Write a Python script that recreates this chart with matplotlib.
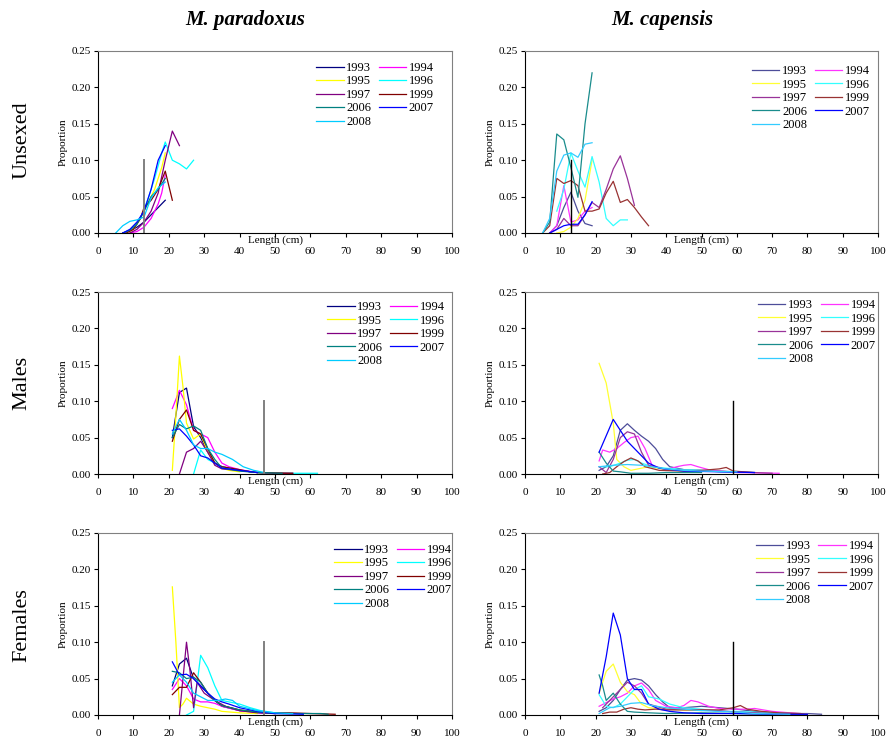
import matplotlib
matplotlib.use("Agg")
import matplotlib.pyplot as plt

plt.rcParams['font.family'] = ['Liberation Serif', 'DejaVu Serif']

years = [1993, 1994, 1995, 1996, 1997, 1999, 2006, 2007, 2008]
# legend is read row by row in the reference: 1993 1994 / 1995 1996 ...
legend_order = [1993, 1995, 1997, 2006, 2008, 1994, 1996, 1999, 2007]
col_titles = ['M. paradoxus', 'M. capensis']
row_titles = ['Unsexed', 'Males', 'Females']
x_ticks = [0, 10, 20, 30, 40, 50, 60, 70, 80, 90, 100]
y_ticks = [0.00, 0.05, 0.10, 0.15, 0.20, 0.25]

# colours (Excel-like palette), paradoxus / capensis
col_par = {1993: '#000080', 1994: '#FF00FF', 1995: '#FFFF00', 1996: '#00FFFF',
           1997: '#800080', 1999: '#800000', 2006: '#008080', 2007: '#0000FF',
           2008: '#00CCFF'}
col_cap = {1993: '#4D4D99', 1994: '#FF33FF', 1995: '#FFFF33', 1996: '#33FFFF',
           1997: '#993399', 1999: '#993333', 2006: '#1A8C8C', 2007: '#0000FF',
           2008: '#33CCFF'}

# vertical marker lines (length)
vline_par = 13
vline_cap = 13
vline_par_sex = 47
vline_cap_sex = 59

# ---- M. paradoxus, unsexed
par_unsexed = {
    1993: ([7, 9, 11, 13, 15, 17, 19], [0.0, 0.003, 0.008, 0.015, 0.025, 0.035, 0.045]),
    1994: ([9, 11, 13, 15, 16, 17, 18, 19], [0.0, 0.002, 0.008, 0.02, 0.03, 0.04, 0.055, 0.08]),
    1995: ([8, 10, 12, 14, 16, 18, 19], [0.0, 0.005, 0.02, 0.04, 0.06, 0.09, 0.11]),
    1996: ([8, 10, 12, 14, 16, 18, 19, 21, 23, 25, 27], [0.0, 0.008, 0.02, 0.045, 0.075, 0.11, 0.125, 0.1, 0.095, 0.088, 0.1]),
    1997: ([9, 11, 13, 15, 17, 19, 21, 23], [0.0, 0.005, 0.015, 0.03, 0.055, 0.1, 0.14, 0.12]),
    1999: ([8, 10, 12, 13, 15, 17, 19, 21], [0.0, 0.005, 0.02, 0.035, 0.045, 0.06, 0.085, 0.045]),
    2006: ([7, 9, 11, 13, 15, 17, 19], [0.0, 0.004, 0.012, 0.03, 0.05, 0.06, 0.075]),
    2007: ([7, 9, 11, 13, 15, 17, 19], [0.0, 0.005, 0.015, 0.03, 0.06, 0.1, 0.12]),
    2008: ([5, 7, 9, 11, 13, 15, 17, 19], [0.0, 0.01, 0.016, 0.018, 0.022, 0.048, 0.062, 0.07]),
}

# ---- M. capensis, unsexed
cap_unsexed = {
    1993: ([7, 9, 11, 13, 15, 17, 19], [0.0, 0.01, 0.035, 0.056, 0.03, 0.013, 0.01]),
    1994: ([7, 9, 11, 13, 15, 17, 19], [0.0, 0.01, 0.065, 0.015, 0.018, 0.03, 0.035]),
    1995: ([9, 11, 13, 15, 17, 19], [0.0, 0.002, 0.008, 0.02, 0.045, 0.1]),
    1996: ([9, 11, 13, 15, 17, 19, 21, 23, 25, 27, 29], [0.03, 0.06, 0.11, 0.085, 0.063, 0.105, 0.07, 0.02, 0.01, 0.018, 0.018]),
    1997: ([7, 9, 11, 13, 15, 17, 19, 21, 23, 25, 27, 29, 31], [0.0, 0.005, 0.02, 0.01, 0.01, 0.025, 0.042, 0.035, 0.06, 0.088, 0.106, 0.075, 0.038]),
    1999: ([5, 7, 9, 11, 13, 15, 17, 19, 21, 23, 25, 27, 29, 31, 33, 35], [0.0, 0.01, 0.075, 0.068, 0.072, 0.065, 0.03, 0.03, 0.033, 0.055, 0.071, 0.042, 0.046, 0.035, 0.022, 0.01]),
    2006: ([5, 7, 9, 11, 13, 15, 17, 19], [0.0, 0.015, 0.136, 0.128, 0.09, 0.049, 0.15, 0.22]),
    2007: ([7, 9, 11, 13, 15, 17, 19], [0.0, 0.005, 0.01, 0.012, 0.012, 0.025, 0.043]),
    2008: ([5, 7, 9, 11, 13, 15, 17, 19], [0.0, 0.02, 0.085, 0.107, 0.11, 0.104, 0.122, 0.124]),
}

# ---- M. paradoxus, males
par_males = {
    1993: ([21, 23, 25, 27, 29, 31, 33, 35, 37, 40, 45], [0.05, 0.112, 0.118, 0.065, 0.05, 0.03, 0.015, 0.01, 0.008, 0.005, 0.002]),
    1994: ([21, 23, 25, 27, 29, 31, 33, 35, 37, 40, 45], [0.09, 0.115, 0.095, 0.06, 0.055, 0.05, 0.03, 0.015, 0.01, 0.006, 0.002]),
    1995: ([21, 22, 23, 24, 25, 27, 29, 31, 33, 35, 37, 40], [0.005, 0.08, 0.162, 0.12, 0.07, 0.048, 0.055, 0.03, 0.015, 0.008, 0.005, 0.003]),
    1996: ([27, 29, 31, 33, 35, 40, 45, 50, 55, 60, 62], [0.0, 0.033, 0.02, 0.015, 0.01, 0.005, 0.002, 0.001, 0.001, 0.001, 0.001]),
    1997: ([23, 25, 27, 29, 31, 33, 35, 40, 45, 50, 55], [0.0, 0.03, 0.035, 0.045, 0.03, 0.012, 0.007, 0.005, 0.002, 0.001, 0.001]),
    1999: ([21, 23, 25, 27, 29, 31, 33, 35, 40, 43, 45, 55], [0.045, 0.075, 0.088, 0.06, 0.055, 0.035, 0.015, 0.01, 0.006, 0.003, 0.002, 0.001]),
    2006: ([21, 23, 25, 27, 29, 31, 33, 35, 40, 45, 52], [0.05, 0.068, 0.062, 0.066, 0.06, 0.035, 0.02, 0.008, 0.004, 0.002, 0.001]),
    2007: ([21, 23, 25, 27, 29, 31, 33, 35, 40, 45], [0.06, 0.062, 0.052, 0.04, 0.025, 0.022, 0.015, 0.008, 0.005, 0.002]),
    2008: ([21, 23, 25, 27, 29, 31, 33, 35, 38, 41, 44, 47], [0.055, 0.075, 0.06, 0.04, 0.035, 0.035, 0.03, 0.027, 0.02, 0.01, 0.005, 0.002]),
}

# ---- M. capensis, males
cap_males = {
    1993: ([21, 23, 25, 27, 29, 31, 33, 35, 37, 39, 41, 45, 55, 60], [0.005, 0.01, 0.025, 0.06, 0.069, 0.06, 0.052, 0.045, 0.035, 0.02, 0.01, 0.006, 0.004, 0.003]),
    1994: ([21, 22, 24, 26, 28, 30, 32, 34, 36, 40, 43, 45, 47, 49, 52, 55, 60, 72], [0.018, 0.033, 0.03, 0.035, 0.043, 0.05, 0.052, 0.035, 0.012, 0.006, 0.01, 0.012, 0.013, 0.01, 0.006, 0.004, 0.002, 0.001]),
    1995: ([21, 23, 25, 26, 28, 30, 33, 35, 40, 45, 50], [0.152, 0.125, 0.07, 0.02, 0.01, 0.005, 0.008, 0.01, 0.006, 0.004, 0.003]),
    1996: ([21, 24, 27, 29, 31, 33, 36, 40, 45, 50, 55, 60, 65], [0.01, 0.01, 0.015, 0.019, 0.02, 0.015, 0.01, 0.008, 0.006, 0.005, 0.003, 0.003, 0.002]),
    1997: ([21, 23, 25, 27, 29, 31, 33, 35, 40, 50, 60, 70], [0.01, 0.002, 0.02, 0.05, 0.058, 0.055, 0.03, 0.012, 0.006, 0.004, 0.003, 0.001]),
    1999: ([22, 24, 26, 28, 30, 32, 34, 38, 45, 50, 55, 57, 59, 65], [0.0, 0.002, 0.01, 0.017, 0.022, 0.018, 0.01, 0.005, 0.004, 0.005, 0.007, 0.009, 0.004, 0.002]),
    2006: ([21, 23, 25, 27, 30, 35, 40, 50], [0.03, 0.015, 0.004, 0.003, 0.001, 0.001, 0.002, 0.002]),
    2007: ([21, 25, 27, 29, 31, 33, 35, 38, 45, 55, 65], [0.03, 0.075, 0.06, 0.045, 0.035, 0.025, 0.015, 0.008, 0.004, 0.003, 0.002]),
    2008: ([21, 25, 29, 33, 36, 40, 45, 50, 60], [0.01, 0.012, 0.013, 0.012, 0.01, 0.007, 0.005, 0.004, 0.003]),
}

# ---- M. paradoxus, females
par_females = {
    1993: ([21, 23, 25, 27, 29, 31, 33, 35, 40, 45, 50], [0.04, 0.07, 0.078, 0.05, 0.04, 0.03, 0.02, 0.012, 0.006, 0.004, 0.002]),
    1994: ([21, 23, 25, 27, 29, 31, 33, 35, 40, 45, 50], [0.035, 0.05, 0.04, 0.022, 0.018, 0.018, 0.016, 0.012, 0.006, 0.003, 0.002]),
    1995: ([21, 22, 23, 24, 25, 27, 29, 31, 33, 35, 40, 45], [0.176, 0.1, 0.01, 0.015, 0.023, 0.015, 0.012, 0.01, 0.008, 0.005, 0.003, 0.002]),
    1996: ([25, 27, 29, 31, 33, 35, 37, 40, 43, 46, 50, 55], [0.0, 0.005, 0.082, 0.065, 0.04, 0.02, 0.018, 0.015, 0.01, 0.006, 0.003, 0.002]),
    1997: ([23, 24, 25, 26, 27, 28, 30, 33, 36, 40, 45, 50], [0.0, 0.05, 0.1, 0.06, 0.01, 0.045, 0.03, 0.02, 0.012, 0.006, 0.003, 0.002]),
    1999: ([21, 23, 25, 27, 29, 31, 33, 35, 40, 45, 50, 54, 60, 67], [0.028, 0.038, 0.038, 0.058, 0.045, 0.03, 0.02, 0.013, 0.007, 0.004, 0.003, 0.003, 0.002, 0.001]),
    2006: ([21, 23, 25, 27, 29, 31, 33, 35, 40, 45, 50, 63, 65], [0.06, 0.058, 0.05, 0.052, 0.045, 0.03, 0.02, 0.013, 0.007, 0.004, 0.002, 0.002, 0.001]),
    2007: ([21, 23, 25, 27, 29, 31, 33, 35, 37, 40, 45, 50, 58], [0.073, 0.055, 0.056, 0.05, 0.04, 0.03, 0.022, 0.018, 0.015, 0.01, 0.005, 0.002, 0.001]),
    2008: ([21, 23, 25, 27, 29, 31, 34, 36, 38, 40, 45, 50, 55], [0.045, 0.055, 0.045, 0.03, 0.025, 0.02, 0.02, 0.022, 0.02, 0.012, 0.006, 0.003, 0.002]),
}

# ---- M. capensis, females
cap_females = {
    1993: ([21, 23, 25, 27, 29, 31, 33, 35, 37, 39, 41, 45, 50, 55, 60, 65, 70, 75, 80, 84], [0.005, 0.01, 0.02, 0.035, 0.048, 0.05, 0.048, 0.04, 0.028, 0.018, 0.01, 0.01, 0.012, 0.01, 0.008, 0.005, 0.003, 0.002, 0.002, 0.001]),
    1994: ([21, 23, 25, 27, 29, 31, 33, 35, 37, 40, 43, 45, 47, 49, 52, 55, 60, 63, 65, 70, 75, 80], [0.012, 0.017, 0.022, 0.025, 0.03, 0.04, 0.044, 0.035, 0.02, 0.012, 0.01, 0.013, 0.02, 0.018, 0.012, 0.009, 0.008, 0.008, 0.009, 0.005, 0.003, 0.001]),
    1995: ([21, 23, 25, 27, 29, 31, 33, 35, 40, 45, 50], [0.03, 0.06, 0.07, 0.045, 0.032, 0.028, 0.015, 0.01, 0.008, 0.007, 0.006]),
    1996: ([21, 23, 25, 27, 29, 31, 33, 35, 38, 41, 45, 50, 55, 60, 70, 80], [0.028, 0.012, 0.01, 0.015, 0.025, 0.035, 0.04, 0.025, 0.022, 0.015, 0.01, 0.008, 0.005, 0.005, 0.003, 0.001]),
    1997: ([22, 25, 27, 29, 31, 33, 35, 40, 45, 50, 55, 60, 70, 78], [0.01, 0.025, 0.035, 0.045, 0.04, 0.03, 0.015, 0.008, 0.008, 0.007, 0.006, 0.004, 0.002, 0.002]),
    1999: ([22, 24, 26, 28, 30, 32, 34, 37, 40, 45, 50, 55, 59, 61, 63, 67, 72, 78, 80], [0.002, 0.004, 0.004, 0.008, 0.01, 0.008, 0.007, 0.008, 0.007, 0.007, 0.007, 0.007, 0.01, 0.013, 0.008, 0.005, 0.003, 0.002, 0.001]),
    2006: ([21, 22, 23, 25, 27, 29, 31, 35, 40, 50, 60, 70], [0.055, 0.04, 0.02, 0.03, 0.015, 0.005, 0.004, 0.003, 0.002, 0.003, 0.002, 0.001]),
    2007: ([21, 23, 25, 27, 29, 31, 33, 35, 38, 41, 45, 50, 60, 70, 80], [0.03, 0.08, 0.14, 0.11, 0.05, 0.035, 0.035, 0.015, 0.008, 0.005, 0.003, 0.002, 0.002, 0.001, 0.001]),
    2008: ([21, 24, 27, 30, 33, 36, 40, 45, 50, 55, 60, 65, 75], [0.002, 0.01, 0.012, 0.016, 0.017, 0.013, 0.01, 0.008, 0.006, 0.005, 0.004, 0.002, 0.001]),
}

panels = [[par_unsexed, cap_unsexed], [par_males, cap_males], [par_females, cap_females]]
vlines = [[vline_par, vline_cap], [vline_par_sex, vline_cap_sex], [vline_par_sex, vline_cap_sex]]
# legend anchor (axes fraction) per panel
leg_pos = [[(0.616, 0.94), (0.643, 0.923)],
           [(0.647, 0.95), (0.66, 0.96)],
           [(0.667, 0.94), (0.654, 0.96)]]

fig = plt.figure(figsize=(8.88, 7.46), dpi=100)

lefts = [98 / 888, 525 / 888]
widths = [354 / 888, 353 / 888]
bottoms = [1 - 233 / 746, 1 - 474 / 746, 1 - 715 / 746]
height = 182 / 746

for r in range(3):
    for c in range(2):
        ax = fig.add_axes([lefts[c], bottoms[r], widths[c], height])
        data = panels[r][c]
        cols = col_par if c == 0 else col_cap
        handles = {}
        for yr in years:
            xs, ys = data[yr]
            handles[yr], = ax.plot(xs, ys, color=cols[yr], lw=0.9, label=str(yr))
        ax.plot([vlines[r][c], vlines[r][c]], [0, 0.1],
                color='#808080' if c == 0 else 'black', lw=1.4 if c == 0 else 1.0)
        ax.set_xlim(0, 100)
        ax.set_ylim(0, 0.25)
        ax.set_xticks(x_ticks)
        ax.set_yticks(y_ticks)
        ax.set_yticklabels(['%.2f' % v for v in y_ticks])
        ax.tick_params(labelsize=8, length=3, width=0.8, pad=2)
        ax.tick_params(axis='x', pad=7)
        for s in ['top', 'right']:
            ax.spines[s].set_color('#808080')
        for s in ['left', 'bottom']:
            ax.spines[s].set_color('black')
        for s in ax.spines.values():
            s.set_linewidth(0.8)
        ax.set_xlabel('Length (cm)', fontsize=8, labelpad=0)
        ax.xaxis.set_label_coords(0.5, -0.012)
        ax.set_ylabel('Proportion', fontsize=8, labelpad=3)
        ax.legend([handles[y] for y in legend_order], [str(y) for y in legend_order],
                  ncol=2, loc='upper left', bbox_to_anchor=leg_pos[r][c],
                  frameon=False, fontsize=9, handlelength=2.2, columnspacing=0.6,
                  handletextpad=0.2, labelspacing=0.12, borderaxespad=0,
                  borderpad=0)

fig.text(245 / 888, 1 - 20 / 746, col_titles[0], fontsize=15, style='italic',
         weight='bold', ha='center', va='center')
fig.text(662 / 888, 1 - 20 / 746, col_titles[1], fontsize=15, style='italic',
         weight='bold', ha='center', va='center')
for r, yc in enumerate([140, 383, 625]):
    fig.text(22 / 888, 1 - yc / 746, row_titles[r], fontsize=16, rotation=90,
             ha='center', va='center')

fig.savefig('out.png', dpi=100)
